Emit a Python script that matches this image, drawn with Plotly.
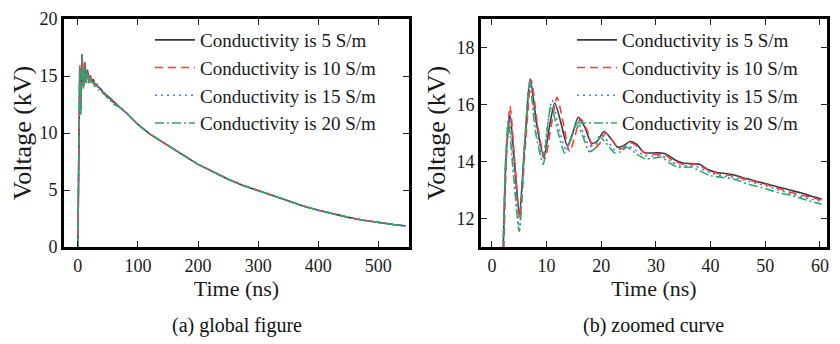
import plotly.graph_objects as go

# ---------------- data ----------------
series_names = ["Conductivity is 5 S/m", "Conductivity is 10 S/m",
                "Conductivity is 15 S/m", "Conductivity is 20 S/m"]

# early part (0-60 ns), one time base per series
t_5 = [0, 1, 2, 2.6, 3.3, 4.2, 5.0, 6.0, 7.0, 8.2, 9.5, 10.5, 11.5, 12.7, 13.8, 14.8, 15.8,
       17.0, 18.2, 19.2, 20.5, 21.8, 23.0, 24.0, 25.3, 26.5, 27.8, 29.5, 31.0, 32.0, 33.5,
       35.0, 37.0, 38.0, 39.5, 41.0, 43.0, 44.5, 46.5, 48.5, 50.5, 52.5, 54.5, 56.5, 58.5, 60.3]
v_5 = [0, 4.5, 10.5, 14.2, 15.65, 13.8, 12.15, 14.6, 16.9, 15.3, 14.15, 15.2, 16.05, 15.3,
       14.55, 15.0, 15.55, 15.2, 14.65, 14.7, 15.05, 14.8, 14.5, 14.55, 14.7, 14.6, 14.32,
       14.3, 14.3, 14.25, 14.05, 13.95, 13.92, 13.9, 13.72, 13.62, 13.57, 13.52, 13.4, 13.3,
       13.2, 13.1, 13.0, 12.9, 12.78, 12.68]

t_10 = [0, 1, 2.1, 2.7, 3.3, 4.3, 5.1, 6.1, 7.2, 8.4, 9.7, 10.8, 11.9, 13.0, 14.2, 15.2, 16.2,
        17.4, 18.6, 19.6, 20.8, 22.0, 23.2, 24.4, 25.6, 26.8, 28.0, 29.8, 31.5, 33.0, 35.0,
        37.5, 40.0, 42.0, 44.0, 47.0, 50.0, 52.5, 55.0, 57.5, 60.3]
v_10 = [0, 4.2, 10.5, 14.3, 15.95, 13.7, 12.0, 14.5, 16.85, 15.2, 14.1, 15.2, 16.25, 15.4,
        14.35, 14.9, 15.5, 15.1, 14.45, 14.6, 15.0, 14.75, 14.45, 14.5, 14.65, 14.5, 14.3,
        14.25, 14.25, 14.05, 13.9, 13.9, 13.65, 13.55, 13.5, 13.35, 13.2, 13.05, 12.9, 12.78,
        12.65]

t_15 = [0, 1, 2.0, 2.5, 3.1, 4.1, 5.0, 5.9, 7.0, 8.1, 9.3, 10.2, 11.0, 12.2, 13.5, 14.6, 15.6,
        16.7, 17.8, 18.8, 19.9, 21.2, 22.5, 23.6, 24.8, 26.2, 28.0, 29.5, 31.0, 32.8, 34.5,
        37.0, 40.0, 42.0, 44.0, 47.0, 50.0, 52.5, 55.0, 57.5, 60.3]
v_15 = [0, 4.8, 10.6, 14.0, 15.6, 13.5, 11.6, 14.4, 16.85, 15.2, 14.15, 15.3, 16.15, 15.2,
        14.45, 14.9, 15.4, 15.0, 14.55, 14.6, 14.95, 14.7, 14.4, 14.45, 14.55, 14.4, 14.2,
        14.2, 14.2, 14.0, 13.85, 13.85, 13.6, 13.5, 13.45, 13.3, 13.15, 13.0, 12.85, 12.72,
        12.6]

t_20 = [0, 1, 2.0, 2.5, 3.0, 4.0, 5.0, 5.9, 6.9, 8.0, 9.4, 10.1, 10.8, 12.0, 13.3, 14.4, 15.4,
        16.6, 17.8, 18.8, 19.8, 21.1, 22.5, 23.6, 24.7, 26.2, 28.0, 29.5, 31.0, 32.5, 34.0,
        36.5, 40.0, 42.0, 44.0, 47.0, 50.0, 52.5, 55.0, 57.5, 60.3]
v_20 = [0, 4.8, 10.7, 14.0, 15.4, 13.4, 11.55, 14.3, 16.8, 15.0, 13.9, 15.1, 15.95, 15.1,
        14.3, 14.75, 15.3, 14.9, 14.35, 14.45, 14.85, 14.6, 14.3, 14.35, 14.5, 14.3, 14.1,
        14.12, 14.15, 13.95, 13.8, 13.8, 13.5, 13.45, 13.4, 13.2, 13.05, 12.9, 12.8, 12.65,
        12.5]

# common decay tail (after 60 ns) used in the global figure
t_tail = [70, 80, 100, 120, 150, 175, 200, 225, 250, 275, 300, 325, 350, 375, 400, 425,
          450, 475, 500, 525, 545]
v_tail = [12.25, 11.8, 10.75, 9.9, 8.9, 8.05, 7.25, 6.6, 5.95, 5.4, 4.95, 4.45, 4.03, 3.6,
          3.23, 2.9, 2.6, 2.35, 2.14, 1.97, 1.85]

left_x_ticks = [0, 100, 200, 300, 400, 500]
left_y_ticks = [0, 5, 10, 15, 20]
right_x_ticks = [0, 10, 20, 30, 40, 50, 60]
right_y_ticks = [12, 14, 16, 18]

# ---------------- styling ----------------
colors = ["#3a3a3a", "#ff3b3b", "#3d7cf5", "#2fa862"]
dashes = ["solid", "8px,5px", "2px,4px", "9px,3px,2px,3px"]
FONT = "Liberation Serif"
OFF = 8                      # page body margin of the html page
W, H = 840 - OFF, 344 - OFF  # figure size so the page fits the 840x344 window

t_sets = [t_5, t_10, t_15, t_20]
v_sets = [v_5, v_10, v_15, v_20]

fig = go.Figure()

for i in range(4):
    # global figure (left)
    fig.add_trace(go.Scatter(
        x=t_sets[i] + t_tail, y=v_sets[i] + v_tail, mode="lines",
        name=series_names[i], line=dict(color=colors[i], width=1.6, dash=dashes[i]),
        xaxis="x", yaxis="y", legend="legend"))
for i in range(4):
    # zoomed curve (right)
    fig.add_trace(go.Scatter(
        x=t_sets[i], y=v_sets[i], mode="lines", line_shape="spline",
        name=series_names[i], line=dict(color=colors[i], width=1.6, dash=dashes[i],
                                        smoothing=0.7),
        xaxis="x2", yaxis="y2", legend="legend2"))

def px_x(p):
    return (p - OFF) / W

def px_y(p):
    return 1 - (p - OFF) / H

axis_common = dict(
    showline=True, linewidth=3, linecolor="black", mirror="ticks",
    ticks="inside", ticklen=6, tickwidth=1.3, tickcolor="#222",
    showgrid=False, zeroline=False, automargin=False, ticklabeloverflow="allow",
    tickfont=dict(family=FONT, size=18, color="#1a1a1a"),
)

y_dom = [px_y(247), px_y(19)]
xt_font = dict(family=FONT, size=22, color="#1a1a1a")
yt_font = dict(family=FONT, size=26, color="#1a1a1a")

fig.update_layout(
    template="none",
    width=W, height=H,
    margin=dict(l=0, r=0, t=0, b=0, autoexpand=False),
    paper_bgcolor="white", plot_bgcolor="white",
    font=dict(family=FONT, color="#1a1a1a"),
    xaxis=dict(domain=[px_x(64), px_x(409)], range=[-23, 551], tickvals=left_x_ticks,
               title=dict(text="Time (ns)", font=xt_font, standoff=0),
               anchor="y", **axis_common),
    yaxis=dict(domain=y_dom, range=[0, 20], tickvals=left_y_ticks,
               title=dict(text="Voltage (kV)", font=yt_font, standoff=4),
               anchor="x", **axis_common),
    xaxis2=dict(domain=[px_x(481), px_x(827)], range=[-2, 61.3], tickvals=right_x_ticks,
                title=dict(text="Time (ns)", font=xt_font, standoff=0),
                anchor="y2", **axis_common),
    yaxis2=dict(domain=y_dom, range=[11, 19], tickvals=right_y_ticks,
                title=dict(text="Voltage (kV)", font=yt_font, standoff=4),
                anchor="x2", **axis_common),
    legend=dict(x=px_x(150), y=px_y(21), xanchor="left", yanchor="top",
                bgcolor="rgba(0,0,0,0)", font=dict(family=FONT, size=19, color="#1a1a1a"),
                itemwidth=40, tracegroupgap=0),
    legend2=dict(x=px_x(572), y=px_y(21), xanchor="left", yanchor="top",
                 bgcolor="rgba(0,0,0,0)", font=dict(family=FONT, size=19, color="#1a1a1a"),
                 itemwidth=40, tracegroupgap=0),
    annotations=[
        dict(text="(a) global figure", x=px_x(237), y=px_y(325), xref="paper", yref="paper",
             showarrow=False, font=dict(family=FONT, size=20, color="#111"),
             xanchor="center", yanchor="middle"),
        dict(text="(b) zoomed curve", x=px_x(653), y=px_y(325), xref="paper", yref="paper",
             showarrow=False, font=dict(family=FONT, size=20, color="#111"),
             xanchor="center", yanchor="middle"),
    ],
)

fig.write_html("out.html")
